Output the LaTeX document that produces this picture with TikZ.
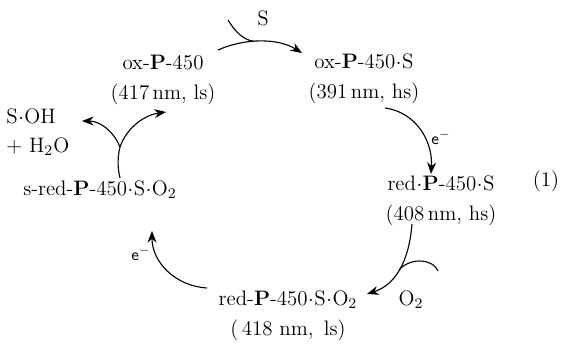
\documentclass[tikz,border=0pt]{standalone}
\usetikzlibrary{arrows.meta,calc}
\tikzset{
  species/.style={align=center,inner sep=0pt,font=\fontsize{11.3}{13.6}\selectfont},
  rxn/.style={-{Stealth[length=2.2mm,width=1.7mm]},line width=0.6pt},
  feed/.style={line width=0.6pt},
  tag/.style={inner sep=0pt,font=\fontsize{11.3}{13.6}\selectfont},
  minor/.style={inner sep=0pt,font=\sffamily\small},
}
\newcommand{\Pb}{\textbf{P}}
\newcommand{\cd}{\kern0.3pt$\cdot$\kern0.3pt}

\begin{document}
\begin{tikzpicture}[x=0.54pt,y=-0.54pt]
  \useasboundingbox (0,0) rectangle (582,344);

  % species of the cycle
  \node[species] (oxP) at (163,80) {ox-\Pb-450\\[2.4pt](417\,nm, ls)};
  \node[species] (oxPS) at (364,79) {ox-\Pb-450\cd S\\[2.4pt](391\,nm, hs)};
  \node[species] (redPS) at (441,201) {red\cd\Pb-450\cd S\\[2.4pt](408\,nm, hs)};
  \node[species] (redPSO) at (288,316) {red-\Pb-450\cd S\cd O$_2$\\[2.4pt](\,418 nm, \,ls)};
  \node[species] (sredPSO) at (100,190) {s-red-\Pb-450\cd S\cd O$_2$};
  \node[species,align=left,anchor=west] (prod) at (6,132) {S\cd OH\\[2.4pt]+ H$_2$O};
  \node[tag] (eqno) at (546,181) {(1)};

  % reagents
  \node[tag] (subS) at (263,18) {S};
  \node[tag] (oxy) at (411,300) {O$_2$};
  \node[minor] (e1) at (441,138) {e$^-$};
  \node[minor] (e2) at (141,254) {e$^-$};

  % arrow ends
  \coordinate (s0) at (218,50);
  \coordinate (s1) at (302,53);
  \coordinate (s2) at (228,20);
  \coordinate (a0) at (385,108);
  \coordinate (a1) at (431,174);
  \coordinate (b0) at (412,224);
  \coordinate (b1) at (367,294);
  \coordinate (b2) at (438,271);
  \coordinate (c0) at (207,288);
  \coordinate (c1) at (152,231);
  \coordinate (d0) at (120,178);
  \coordinate (d1) at (120,147);
  \coordinate (d2) at (166,112);
  \coordinate (d3) at (82,121);

  % connectors
  \draw[rxn] (s0) .. controls (245,38) and (278,38) .. coordinate[pos=0.42] (s3) (s1);
  \draw[feed] (s2) .. controls (236,33) and (244,40) .. (s3);
  \draw[rxn] (a0) .. controls (415,112) and (433,140) .. (a1);
  \draw[rxn] (b0) .. controls (409,262) and (395,285) .. coordinate[pos=0.5] (b3) (b1);
  \draw[feed] (b2) .. controls (434,260) and (412,256) .. (b3);
  \draw[rxn] (c0) .. controls (175,286) and (152,262) .. (c1);
  \draw[feed] (d0) .. controls (117,166) and (118,155) .. (d1);
  \draw[rxn] (d1) .. controls (127,127) and (145,115) .. (d2);
  \draw[rxn] (d1) .. controls (113,130) and (99,121) .. (d3);
\end{tikzpicture}
\end{document}
